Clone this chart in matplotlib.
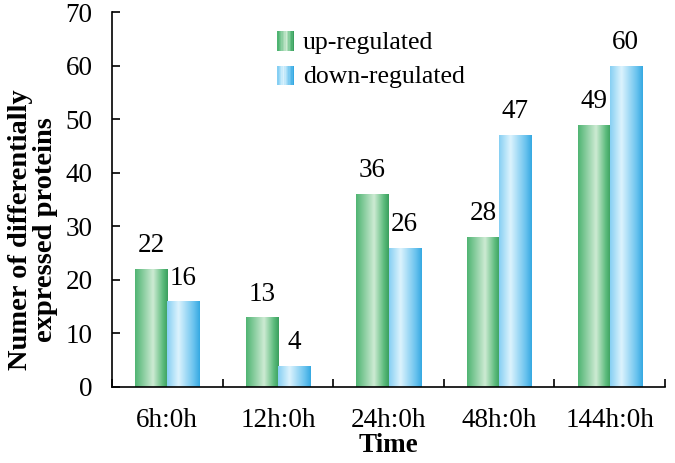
import matplotlib
matplotlib.use("Agg")
import matplotlib.pyplot as plt
import numpy as np
from matplotlib.colors import LinearSegmentedColormap
from matplotlib.patches import Rectangle
from matplotlib.legend_handler import HandlerBase

categories = ["6h:0h", "12h:0h", "24h:0h", "48h:0h", "144h:0h"]
up_regulated = [22, 13, 36, 28, 49]
down_regulated = [16, 4, 26, 47, 60]
yticks = [0, 10, 20, 30, 40, 50, 60, 70]

plt.rcParams['font.family'] = ['Liberation Serif', 'DejaVu Serif']

green_cmap = LinearSegmentedColormap.from_list(
    "g", [(0, "#4fb472"), (0.55, "#cdebd3"), (0.85, "#5cbb7c"), (1, "#3a9f5e")])
blue_cmap = LinearSegmentedColormap.from_list(
    "b", [(0, "#86cff3"), (0.35, "#dcf3fd"), (0.8, "#6cc4ef"), (1, "#35a8e2")])

fig = plt.figure(figsize=(6.75, 4.63), dpi=100)
ax = fig.add_axes([112/675, 1 - 387/463, (665-112)/675, (387-12)/463])

x = np.arange(len(categories))
w = 0.29
grad = np.linspace(0, 1, 256).reshape(1, -1)

def draw_bars(xs, vals, cmap):
    bars = ax.bar(xs, vals, w, color="none", edgecolor="none")
    for b in bars:
        x0, y0 = b.get_x(), b.get_y()
        im = ax.imshow(grad, cmap=cmap, aspect="auto",
                       extent=[x0, x0 + b.get_width(), y0, y0 + b.get_height()],
                       zorder=2, interpolation="bilinear")
        im.set_clip_path(b)
    return bars

b1 = draw_bars(x - w/2, up_regulated, green_cmap)
b2 = draw_bars(x + w/2, down_regulated, blue_cmap)

FS = 19.5
for xi, v in zip(x - w/2, up_regulated):
    ax.text(xi, v + 2.0, str(v), ha="center", va="bottom", fontsize=FS)
for xi, v in zip(x + w/2, down_regulated):
    ax.text(xi, v + 2.0, str(v), ha="center", va="bottom", fontsize=FS)

ax.set_xlim(-0.5, len(categories) - 0.5)
ax.set_ylim(0, 70)
ax.set_yticks(yticks)
ax.set_yticklabels([str(t) for t in yticks], fontsize=FS)
ax.set_xticks(x)
ax.set_xticklabels(categories, fontsize=FS)
ax.tick_params(axis="x", length=0, pad=15)
ax.set_xticks(np.arange(-0.5, len(categories) + 0.5, 1), minor=True)
ax.tick_params(axis="x", which="minor", direction="in", length=6, width=1.2)
ax.tick_params(axis="y", direction="in", length=6, width=1.2, pad=14)
for s in ["top", "right"]:
    ax.spines[s].set_visible(False)
for s in ["left", "bottom"]:
    ax.spines[s].set_linewidth(1.2)

ax.set_xlabel("Time", fontsize=FS, fontweight="bold", labelpad=0)
ax.set_ylabel("Numer of differentially\nexpressed proteins", fontsize=20.5,
              fontweight="bold", linespacing=1.0)
ax.yaxis.set_label_coords(-0.098, 0.42)

class GradHandler(HandlerBase):
    def __init__(self, cmap):
        super().__init__()
        self.cmap = cmap
    def create_artists(self, legend, orig_handle, xdescent, ydescent,
                       width, height, fontsize, trans):
        arts = []
        n = 12
        size = 12
        hh = 14
        x0 = width - size
        for i in range(n):
            r = Rectangle((x0 + i*size/n, -ydescent + (height - hh)/2 - 1), size/n + 0.3, hh,
                          facecolor=self.cmap(i/(n-1)), edgecolor="none",
                          transform=trans)
            arts.append(r)
        return arts

hg = Rectangle((0, 0), 1, 1)
hb = Rectangle((0, 0), 1, 1)
ax.legend([hg, hb], ["up-regulated", "down-regulated"],
          handler_map={hg: GradHandler(green_cmap), hb: GradHandler(blue_cmap)},
          frameon=False, fontsize=18.5, loc="upper left",
          bbox_to_anchor=(0.25, 1.012), handlelength=0.8, handletextpad=0.35,
          labelspacing=0.45)

fig.savefig("out.png", dpi=100)
